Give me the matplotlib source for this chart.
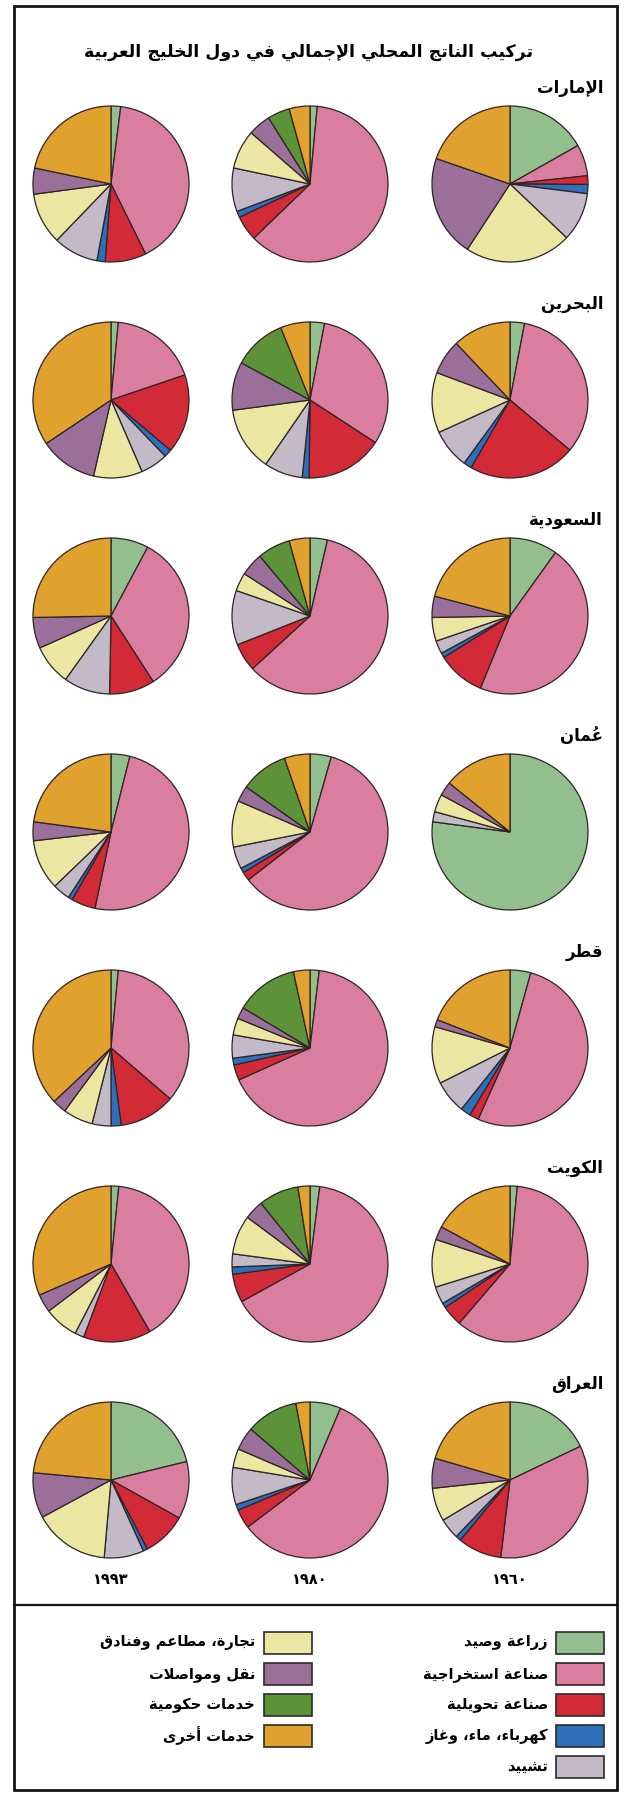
import matplotlib
matplotlib.use("Agg")
import matplotlib.pyplot as plt
from matplotlib.patches import Rectangle

W, H = 625, 1793

title = "تركيب الناتج المحلي الإجمالي في دول الخليج العربية"
sectors = ["زراعة وصيد", "صناعة استخراجية", "صناعة تحويلية", "كهرباء، ماء، وغاز", "تشييد",
           "تجارة، مطاعم وفنادق", "نقل ومواصلات", "خدمات حكومية", "خدمات أخرى"]
colors = ["#93bf8e", "#da7ea0", "#d22a37", "#2f6fba", "#c2bac6",
          "#ebe6a2", "#9a709a", "#5c9338", "#e0a12e"]
countries = ["الإمارات", "البحرين", "السعودية", "عُمان", "قطر", "الكويت", "العراق"]
years = ["١٩٩٣", "١٩٨٠", "١٩٦٠"]

# shares (%) per sector, clockwise from 12 o'clock; rows = 1993, 1980, 1960
uae = [[2.0, 40.7, 8.5, 1.7, 9.3, 10.7, 5.4, 0, 21.7],
       [1.5, 61.3, 5.2, 1.3, 9.0, 8.1, 4.7, 4.6, 4.3],
       [16.8, 6.5, 1.8, 1.9, 10.1, 22.1, 21.1, 0, 19.7]]
bahrain = [[1.5, 18.3, 16.4, 1.6, 5.7, 10.1, 12.0, 0, 34.4],
           [3.0, 31.2, 16.0, 1.4, 8.0, 13.3, 10.0, 11.0, 6.1],
           [3.0, 33.1, 22.2, 1.7, 8.2, 12.5, 7.2, 0, 12.1]]
saudi = [[7.8, 33.1, 9.4, 0, 9.6, 8.4, 6.4, 0, 25.3],
         [3.6, 59.6, 5.8, 0, 11.3, 3.8, 4.8, 6.8, 4.3],
         [9.9, 46.3, 9.9, 1.0, 2.7, 4.9, 4.4, 0, 20.9]]
oman = [[3.9, 49.4, 5.0, 0.9, 3.6, 10.4, 3.9, 0, 22.9],
        [4.4, 60.1, 1.8, 1.0, 4.6, 9.6, 3.3, 9.9, 5.3],
        [77.1, 0, 0, 0, 2.1, 3.7, 2.9, 0, 14.2]]
qatar = [[1.5, 34.8, 11.6, 2.1, 3.9, 6.2, 2.9, 0, 37.0],
         [1.9, 66.4, 3.2, 1.4, 4.8, 3.5, 2.4, 13.0, 3.4],
         [4.3, 52.4, 1.9, 2.1, 6.9, 11.8, 1.5, 0, 19.1]]
kuwait = [[1.6, 40.1, 14.0, 0, 1.9, 7.1, 3.8, 0, 31.5],
          [2.0, 65.0, 5.9, 1.5, 2.7, 8.1, 4.0, 8.3, 2.5],
          [1.5, 59.8, 4.3, 1.0, 3.6, 9.9, 2.8, 0, 17.1]]
iraq = [[21.2, 11.9, 9.2, 0.9, 8.2, 15.7, 9.4, 0, 23.5],
        [6.4, 58.3, 4.0, 1.2, 7.7, 3.9, 4.8, 10.8, 2.9],
        [17.9, 34.0, 9.1, 1.1, 4.3, 6.9, 6.2, 0, 20.5]]
shares = [uae, bahrain, saudi, oman, qatar, kuwait, iraq]

# --- minimal arabic shaping (matplotlib has no bidi / joining) ---
ARABIC = {
    "ء": (0xFE80, 0), "آ": (0xFE81, 1), "أ": (0xFE83, 1), "ؤ": (0xFE85, 1), "إ": (0xFE87, 1),
    "ئ": (0xFE89, 2), "ا": (0xFE8D, 1), "ب": (0xFE8F, 2), "ة": (0xFE93, 1), "ت": (0xFE95, 2),
    "ث": (0xFE99, 2), "ج": (0xFE9D, 2), "ح": (0xFEA1, 2), "خ": (0xFEA5, 2), "د": (0xFEA9, 1),
    "ذ": (0xFEAB, 1), "ر": (0xFEAD, 1), "ز": (0xFEAF, 1), "س": (0xFEB1, 2), "ش": (0xFEB5, 2),
    "ص": (0xFEB9, 2), "ض": (0xFEBD, 2), "ط": (0xFEC1, 2), "ظ": (0xFEC5, 2), "ع": (0xFEC9, 2),
    "غ": (0xFECD, 2), "ف": (0xFED1, 2), "ق": (0xFED5, 2), "ك": (0xFED9, 2), "ل": (0xFEDD, 2),
    "م": (0xFEE1, 2), "ن": (0xFEE5, 2), "ه": (0xFEE9, 2), "و": (0xFEED, 1), "ى": (0xFEEF, 1),
    "ي": (0xFEF1, 2),
}
LAM_ALEF = {"آ": 0xFEF5, "أ": 0xFEF7, "إ": 0xFEF9, "ا": 0xFEFB}


def shape(text):
    toks = []
    i = 0
    while i < len(text):
        c = text[i]
        if c == "ل" and i + 1 < len(text) and text[i + 1] in LAM_ALEF:
            toks.append((c, LAM_ALEF[text[i + 1]], 1))
            i += 2
            continue
        if c in ARABIC:
            toks.append((c, ARABIC[c][0], ARABIC[c][1]))
        elif "\u064b" <= c <= "\u0652":
            toks.append((c, None, -1))
        else:
            toks.append((c, None, 0))
        i += 1

    clusters = []
    for k, (c, base, jt) in enumerate(toks):
        if jt == -1:
            # harakat: drawn before the base glyph so it lands over it
            if clusters:
                clusters[-1] = c + clusters[-1]
            else:
                clusters.append(c)
            continue
        if base is None:
            clusters.append(c)
            continue
        p = k - 1
        while p >= 0 and toks[p][2] == -1:
            p -= 1
        n = k + 1
        while n < len(toks) and toks[n][2] == -1:
            n += 1
        prev_j = p >= 0 and toks[p][2] == 2 and jt > 0
        next_j = jt == 2 and n < len(toks) and toks[n][2] > 0
        if jt == 2 and prev_j and next_j:
            code = base + 3
        elif prev_j:
            code = base + 1
        elif next_j:
            code = base + 2
        else:
            code = base
        clusters.append(chr(code))
    return "".join(reversed(clusters))


FONT = ["DejaVu Sans"]
plt.rcParams["font.family"] = FONT

fig = plt.figure(figsize=(W / 100, H / 100), dpi=100)
bg = fig.add_axes([0, 0, 1, 1])
bg.set_xlim(0, W)
bg.set_ylim(H, 0)
bg.axis("off")

# frame and separator
bg.add_patch(Rectangle((14, 6), 603, 1784, fill=False, edgecolor="#151515", linewidth=2))
bg.plot([14, 617], [1605, 1605], color="#151515", linewidth=1.6)

bg.text(308, 52, shape(title), ha="center", va="center", fontsize=12.5, fontweight="bold")

col_x = [111, 310, 510]
row_y = [184 + 216 * k for k in range(7)]
R = 78

for r, country in enumerate(countries):
    bg.text(603, row_y[r] - 96, shape(country), ha="right", va="center",
            fontsize=12, fontweight="bold")
    for c in range(3):
        vals = [v for v in shares[r][c] if v > 0]
        cols = [colors[j] for j, v in enumerate(shares[r][c]) if v > 0]
        size = 2 * R * 1.03
        ax = fig.add_axes([(col_x[c] - size / 2) / W, 1 - (row_y[r] + size / 2) / H,
                           size / W, size / H])
        ax.pie(vals, colors=cols, startangle=90, counterclock=False,
               wedgeprops=dict(edgecolor="#2e2424", linewidth=0.9))
        ax.set_xlim(-1.03, 1.03)
        ax.set_ylim(-1.03, 1.03)
        ax.set_aspect("equal")
        ax.axis("off")

for c, yr in enumerate(years):
    bg.text(col_x[c], 1580, yr, ha="center", va="center", fontsize=10.5, fontweight="bold")

# legend: right column first five sectors, left column the rest
leg_y = [1643 + 31 * k for k in range(5)]
for j, name in enumerate(sectors):
    if j < 5:
        sx, tx, y = 556, 548, leg_y[j]
    else:
        sx, tx, y = 264, 255, leg_y[j - 5]
    bg.add_patch(Rectangle((sx, y - 11), 48, 22, facecolor=colors[j],
                           edgecolor="#2a2a2a", linewidth=1.2))
    bg.text(tx, y, shape(name), ha="right", va="center", fontsize=10.5, fontweight="bold")

fig.savefig("out.png", dpi=100, facecolor="white")
